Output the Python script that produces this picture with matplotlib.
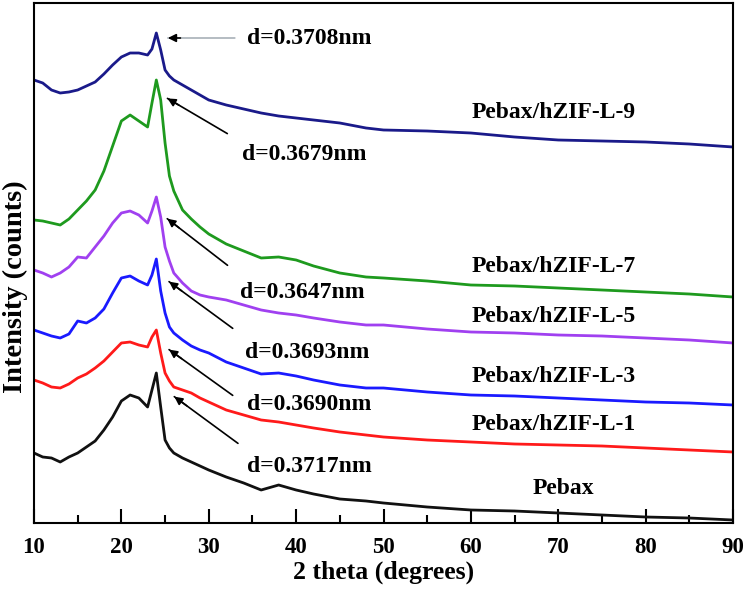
import matplotlib
matplotlib.use("Agg")
import matplotlib.pyplot as plt

plt.rcParams['font.family'] = ['Liberation Serif', 'DejaVu Serif']
plt.rcParams['font.weight'] = 'bold'

# 2 theta grid (degrees)
two_theta = [10, 11, 12, 13, 14, 15, 16, 17, 18, 19, 20, 21, 22, 23, 23.5, 24, 24.5,
             25, 25.5, 26, 27, 28, 29, 30, 32, 34, 36, 38, 40, 42, 45, 48, 50,
             55, 60, 65, 70, 75, 80, 85, 90]

# stacked intensities (a.u., already offset)
pebax = [68, 64, 63, 59, 64, 68, 74, 80, 91, 104, 120, 126, 123, 114, 131, 148, 114,
         81, 73, 68, 63, 59, 55, 51, 44, 38, 31, 36, 31, 27, 22, 20, 18,
         14, 11, 10, 8, 6, 4, 3, 1]
hzif1 = [141, 138, 134, 133, 137, 143, 147, 153, 160, 169, 178, 179, 176, 174, 184, 191, 168,
         148, 140, 134, 131, 128, 123, 119, 111, 106, 101, 99, 96, 93, 89, 86, 84,
         81, 79, 77, 76, 75, 73, 71, 69]
hzif3 = [191, 188, 185, 183, 187, 200, 198, 203, 212, 228, 243, 245, 240, 236, 246, 262, 230,
         208, 194, 188, 181, 175, 171, 168, 159, 153, 147, 148, 145, 141, 136, 133, 133,
         129, 126, 125, 123, 121, 119, 118, 116]
hzif5 = [251, 248, 244, 248, 254, 264, 263, 274, 285, 298, 308, 310, 306, 298, 310, 324, 304,
         274, 260, 248, 238, 230, 226, 224, 221, 216, 211, 208, 206, 203, 199, 196, 196,
         192, 189, 188, 186, 185, 183, 181, 178]
hzif7 = [301, 300, 298, 296, 302, 311, 320, 331, 350, 375, 400, 406, 400, 394, 418, 441, 421,
         378, 345, 330, 311, 302, 294, 287, 277, 270, 263, 264, 261, 255, 248, 244, 243,
         240, 236, 235, 233, 231, 229, 227, 224]
hzif9 = [441, 438, 431, 428, 429, 431, 435, 439, 447, 456, 464, 468, 468, 466, 472, 488, 471,
         451, 445, 441, 436, 431, 426, 421, 416, 412, 408, 405, 403, 401, 398, 393, 391,
         390, 388, 384, 381, 380, 379, 377, 374]

series = [pebax, hzif1, hzif3, hzif5, hzif7, hzif9]
colors = ['#111111', '#ff1a1a', '#1a1aff', '#a040f0', '#1e9a1e', '#1a1a8a']
names = ['Pebax', 'Pebax/hZIF-L-1', 'Pebax/hZIF-L-3', 'Pebax/hZIF-L-5',
         'Pebax/hZIF-L-7', 'Pebax/hZIF-L-9']
name_pos = [(70.6, 32), (69.5, 96), (69.5, 145), (69.5, 204), (69.5, 254), (69.5, 408)]

d_labels = ['d=0.3717nm', 'd=0.3690nm', 'd=0.3693nm', 'd=0.3647nm', 'd=0.3679nm', 'd=0.3708nm']
d_text = [(34.4, 54), (34.4, 116), (34.1, 168), (33.6, 228), (33.8, 366), (34.4, 483)]
d_tail = [(33.6, 76), (33.0, 124), (33.0, 191), (32.4, 254), (32.4, 386), (33.3, 483)]
d_head = [(25.8, 126), (25.2, 173), (25.2, 241), (25.0, 304), (25.0, 424), (25.0, 483)]

fig = plt.figure(figsize=(7.46, 5.89), dpi=100)
ax = fig.add_axes([34 / 746, 66 / 589, 699 / 746, 520 / 589])

for y, c in zip(series, colors):
    ax.plot(two_theta, y, color=c, lw=2)

for n, (x, y) in zip(names, name_pos):
    ax.text(x, y, n, ha='center', va='center', fontsize=17, fontweight='bold')

for i, lab in enumerate(d_labels):
    ax.text(d_text[i][0], d_text[i][1], lab, ha='left', va='center', fontsize=17, fontweight='bold')
    lc = '#a8b0b8' if i == 5 else 'black'
    ax.annotate('', xy=d_head[i], xytext=d_tail[i],
                arrowprops=dict(arrowstyle='-', color=lc, lw=1.2))
    ax.annotate('', xy=d_head[i],
                xytext=(d_head[i][0] + 0.25 * (d_tail[i][0] - d_head[i][0]),
                        d_head[i][1] + 0.25 * (d_tail[i][1] - d_head[i][1])),
                arrowprops=dict(arrowstyle='-|>', color='black', lw=1.2, mutation_scale=12))

ax.set_xlim(10, 90)
ax.set_ylim(-2, 518)
ax.set_xticks(range(10, 91, 10))
ax.set_xticks(range(15, 90, 10), minor=True)
ax.set_yticks([])
ax.tick_params(axis='x', which='major', direction='in', length=10, width=1.5,
               labelsize=16.5, pad=10)
ax.tick_params(axis='x', which='minor', direction='in', length=6, width=1.5)
ax.tick_params(top=False)
for s in ax.spines.values():
    s.set_linewidth(1.5)

ax.set_xlabel('2 theta (degrees)', fontsize=18.5, fontweight='bold')
ax.set_ylabel('Intensity (counts)', fontsize=20.5, fontweight='bold')
ax.xaxis.set_label_coords(0.5, -0.073)
ax.yaxis.set_label_coords(-0.008, 0.454)

fig.savefig('out.png', dpi=100)
